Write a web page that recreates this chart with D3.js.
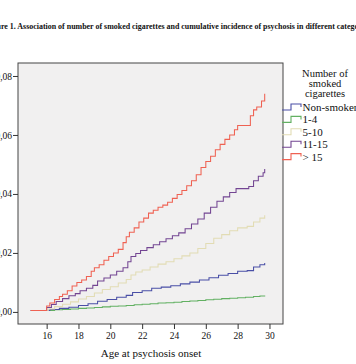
<!DOCTYPE html>
<html>
<head>
<meta charset="utf-8">
<script src="https://cdn.jsdelivr.net/npm/d3@7"></script>
<style>
  html, body { margin: 0; padding: 0; background: #ffffff; overflow: hidden; }
  svg { display: block; }
  text { font-family: "Liberation Serif", "Times New Roman", serif; fill: #111; }
</style>
</head>
<body>
<svg id="chart" width="356" height="364"></svg>
<script>
// ---------- data ----------
const titleText = "Figure 1. Association of number of smoked cigarettes and cumulative incidence of psychosis in different categories";
const xLabel = "Age at psychosis onset";
const legendTitle = ["Number of", "smoked", "cigarettes"];
const categories = ["Non-smoker", "1-4", "5-10", "11-15", "> 15"];
const colors = ["#4a4fa6", "#62b062", "#e2dcb4", "#734592", "#ef6152"];
const xTicks = [16, 18, 20, 22, 24, 26, 28, 30];
const yTicks = [0.00, 0.02, 0.04, 0.06, 0.08];

// [age, cumulative incidence] step points
const nonSmoker = [[15.0,0.0005],[16.0,0.0005],[16.2,0.0008],[16.8,0.0012],[17.4,0.0016],[18.0,0.0022],[18.6,0.0028],[19.2,0.0036],[19.8,0.0042],[20.4,0.0050],[21.0,0.0056],[21.4,0.0066],[22.0,0.0072],[22.6,0.0080],[23.2,0.0084],[23.8,0.0089],[24.4,0.0095],[25.0,0.0101],[25.6,0.0108],[26.2,0.0116],[26.8,0.0124],[27.4,0.0130],[28.0,0.0138],[28.6,0.0140],[29.0,0.0152],[29.4,0.0160],[29.7,0.0166]];
const cig1to4 = [[15.0,0.0005],[16.0,0.0005],[16.5,0.0007],[17.0,0.0008],[17.5,0.0010],[18.0,0.0012],[18.5,0.0013],[19.0,0.0015],[19.5,0.0017],[20.0,0.0019],[20.5,0.0020],[21.0,0.0022],[21.5,0.0024],[22.0,0.0026],[22.5,0.0028],[23.0,0.0030],[23.5,0.0031],[24.0,0.0033],[24.5,0.0035],[25.0,0.0037],[25.5,0.0039],[26.0,0.0041],[26.5,0.0043],[27.0,0.0045],[27.5,0.0046],[28.0,0.0048],[28.5,0.0050],[29.0,0.0052],[29.4,0.0054],[29.7,0.0056]];
const cig5to10 = [[15.0,0.0005],[16.0,0.0005],[16.1,0.0010],[16.5,0.0018],[17.0,0.0026],[17.5,0.0034],[18.0,0.0044],[18.5,0.0052],[19.0,0.0064],[19.5,0.0076],[20.0,0.0085],[20.5,0.0098],[21.0,0.0110],[21.3,0.0125],[21.6,0.0135],[22.0,0.0142],[22.5,0.0152],[23.0,0.0162],[23.5,0.0170],[24.0,0.0180],[24.5,0.0190],[25.0,0.0200],[25.5,0.0215],[26.0,0.0232],[26.5,0.0250],[27.0,0.0262],[27.5,0.0275],[28.0,0.0285],[28.6,0.0290],[29.0,0.0305],[29.4,0.0318],[29.7,0.0328]];
const cig11to15 = [[15.0,0.0005],[15.9,0.0005],[16.0,0.0015],[16.3,0.0025],[16.6,0.0035],[17.0,0.0045],[17.4,0.0055],[17.8,0.0062],[18.1,0.0072],[18.5,0.0080],[18.9,0.0090],[19.2,0.0105],[19.6,0.0115],[20.0,0.0125],[20.4,0.0138],[20.8,0.0150],[21.1,0.0170],[21.3,0.0188],[21.6,0.0198],[21.9,0.0208],[22.3,0.0218],[22.7,0.0228],[23.1,0.0238],[23.5,0.0248],[23.9,0.0258],[24.3,0.0268],[24.7,0.0282],[25.1,0.0298],[25.5,0.0315],[25.9,0.0335],[26.3,0.0355],[26.7,0.0375],[27.1,0.0390],[27.5,0.0405],[27.9,0.0418],[28.7,0.0425],[29.0,0.0445],[29.3,0.0460],[29.6,0.0472],[29.7,0.0485]];
const cigOver15 = [[15.0,0.0005],[15.9,0.0005],[16.0,0.0020],[16.2,0.0030],[16.5,0.0042],[16.8,0.0052],[17.0,0.0060],[17.3,0.0072],[17.6,0.0088],[17.9,0.0100],[18.2,0.0108],[18.5,0.0120],[18.8,0.0138],[19.0,0.0150],[19.3,0.0160],[19.6,0.0175],[19.9,0.0188],[20.2,0.0200],[20.5,0.0212],[20.8,0.0235],[21.0,0.0255],[21.2,0.0270],[21.5,0.0285],[21.8,0.0305],[22.1,0.0318],[22.4,0.0335],[22.7,0.0345],[23.0,0.0355],[23.3,0.0362],[23.6,0.0372],[23.9,0.0385],[24.2,0.0398],[24.5,0.0412],[24.8,0.0428],[25.1,0.0445],[25.4,0.0465],[25.7,0.0490],[26.0,0.0510],[26.3,0.0528],[26.6,0.0550],[26.9,0.0568],[27.2,0.0585],[27.5,0.0600],[27.8,0.0618],[28.0,0.0632],[28.8,0.0665],[29.0,0.0685],[29.2,0.0695],[29.5,0.0715],[29.7,0.0740]];

const seriesList = [nonSmoker, cig1to4, cig5to10, cig11to15, cigOver15];

// ---------- layout ----------
const svg = d3.select("#chart");
const plot = { left: 18, right: 283, top: 63, bottom: 324 };

const x = d3.scaleLinear().domain([14.2, 30.85]).range([plot.left, plot.right]);
const y = d3.scaleLinear().domain([-0.0041, 0.0844]).range([plot.bottom, plot.top]);

// title (left part falls outside the picture, as in the reference)
svg.append("text")
  .attr("x", -14.5).attr("y", 29)
  .style("font-size", "7.95px").style("font-weight", "bold")
  .text(titleText);

// plot background
svg.append("rect")
  .attr("x", plot.left).attr("y", plot.top)
  .attr("width", plot.right - plot.left).attr("height", plot.bottom - plot.top)
  .attr("fill", "#f1f0f0");

// lines
const line = d3.line().x(d => x(d[0])).y(d => y(d[1])).curve(d3.curveStepAfter);
const order = [1, 0, 2, 3, 4];
order.forEach(i => {
  svg.append("path")
    .datum(seriesList[i])
    .attr("fill", "none")
    .attr("stroke", colors[i])
    .attr("stroke-width", 1.05)
    .attr("d", line);
});

// frame
svg.append("rect")
  .attr("x", plot.left).attr("y", plot.top)
  .attr("width", plot.right - plot.left).attr("height", plot.bottom - plot.top)
  .attr("fill", "none").attr("stroke", "#444").attr("stroke-width", 1);

// axes
const yAxis = d3.axisLeft(y).tickValues(yTicks).tickSize(5).tickPadding(1)
  .tickFormat(d => d3.format(".2f")(d).replace(".", ","));
const gy = svg.append("g").attr("transform", `translate(${plot.left},0)`).call(yAxis);
gy.attr("font-family", null);
gy.select(".domain").remove();
gy.selectAll("line").attr("stroke", "#333");
gy.selectAll("text").style("font-size", "9.5px").attr("fill", "#111");

const xAxis = d3.axisBottom(x).tickValues(xTicks).tickSize(5).tickPadding(3).tickFormat(d3.format("d"));
const gx = svg.append("g").attr("transform", `translate(0,${plot.bottom})`).call(xAxis);
gx.attr("font-family", null);
gx.select(".domain").remove();
gx.selectAll("line").attr("stroke", "#333");
gx.selectAll("text").style("font-size", "9.5px").attr("fill", "#111");

// x label
svg.append("text")
  .attr("x", 151).attr("y", 357)
  .attr("text-anchor", "middle")
  .style("font-size", "11px")
  .text(xLabel);

// legend
const lt = svg.append("text").attr("text-anchor", "middle").style("font-size", "10.5px");
legendTitle.forEach((t, i) => {
  lt.append("tspan").attr("x", 325).attr("y", 77 + i * 10.2).text(t);
});

const legend = svg.append("g");
categories.forEach((c, i) => {
  const cy = 107 + i * 12.4;
  legend.append("path")
    .attr("d", `M282,${cy + 3}H291V${cy - 3}H301V${cy}`)
    .attr("fill", "none").attr("stroke", colors[i]).attr("stroke-width", 1.1);
  legend.append("text")
    .attr("x", 302.5).attr("y", cy + 4)
    .style("font-size", "11px")
    .text(c);
});
</script>
</body>
</html>
